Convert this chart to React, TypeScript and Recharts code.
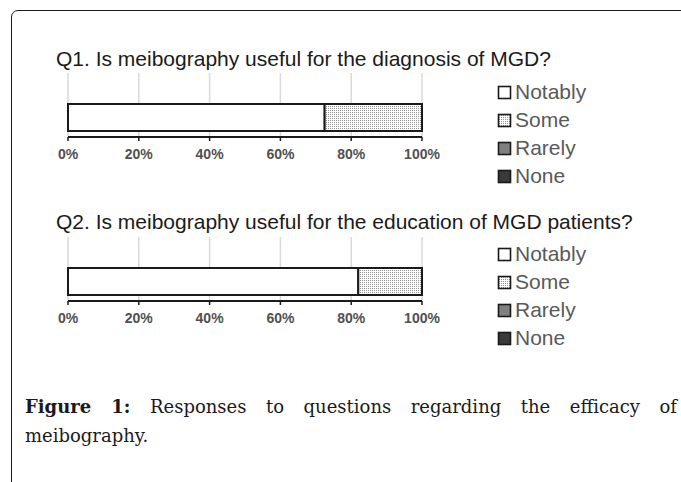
import React from 'react';
import { BarChart, Bar, XAxis, YAxis, CartesianGrid, Legend } from 'recharts';

const QUESTIONS = [
  'Q1. Is meibography useful for the diagnosis of MGD?',
  'Q2. Is meibography useful for the education of MGD patients?',
];
const NOTABLY = [72.5, 82];
const SOME = [27.5, 18];
const RARELY = [0, 0];
const NONE = [0, 0];
const SERIES = ['Notably', 'Some', 'Rarely', 'None'];
const TICKS = [0, 20, 40, 60, 80, 100];
const CAPTION_LABEL = 'Figure 1:';
const CAPTION_LINE1 = 'Responses to questions regarding the efficacy of';
const CAPTION_LINE2 = 'meibography.';

const SANS = '"Liberation Sans", Arial, sans-serif';
const SERIF = '"DejaVu Serif", serif';

const rows = QUESTIONS.map((q, i) => ({
  name: q,
  Notably: NOTABLY[i],
  Some: SOME[i],
  Rarely: RARELY[i],
  None: NONE[i],
}));

const SOLID: Record<string, string> = {
  Notably: '#ffffff',
  Rarely: '#808080',
  None: '#3a3a3a',
};

const fillFor = (name: string, pid: string) =>
  name === 'Some' ? `url(#${pid})` : SOLID[name];

const DotPattern = ({ id }: { id: string }) => (
  <pattern id={id} width={2} height={2} patternUnits="userSpaceOnUse">
    <rect width={2} height={2} fill="#ffffff" />
    <rect x={0} y={0} width={1} height={1} fill="#949494" />
  </pattern>
);

const LegendContent = (props: any) => {
  const { pid } = props;
  return (
    <div>
      {SERIES.map((name) => (
        <div
          key={name}
          style={{ display: 'flex', alignItems: 'center', height: 28 }}
        >
          <svg width={15} height={15} style={{ display: 'block' }}>
            <defs>
              <DotPattern id={`lg-${pid}`} />
            </defs>
            <rect
              x={1.5}
              y={1.5}
              width={12}
              height={12}
              fill={name === 'Some' ? `url(#lg-${pid})` : SOLID[name]}
              stroke="#1a1a1a"
              strokeWidth={1.6}
            />
          </svg>
          <span
            style={{
              marginLeft: 3,
              fontSize: 21,
              color: '#595959',
              fontFamily: SANS,
              lineHeight: '28px',
              whiteSpace: 'nowrap',
            }}
          >
            {name}
          </span>
        </div>
      ))}
    </div>
  );
};

const QuestionChart = ({ index, top }: { index: number; top: number }) => {
  const pid = `dots${index}`;
  return (
    <div style={{ position: 'absolute', left: 0, top }}>
      <BarChart
        width={681}
        height={200}
        layout="vertical"
        data={[rows[index]]}
        margin={{ top: 73, right: 259, left: 68, bottom: 33 }}
      >
        <defs>
          <DotPattern id={pid} />
        </defs>
        <CartesianGrid
          horizontal={false}
          vertical={true}
          stroke="#d9d9d9"
          strokeWidth={1.5}
        />
        <XAxis
          type="number"
          domain={[0, 100]}
          ticks={TICKS}
          tickFormatter={(v: number) => `${v}%`}
          axisLine={{ stroke: '#1a1a1a', strokeWidth: 2 }}
          tickLine={{ stroke: '#1a1a1a', strokeWidth: 1.5 }}
          tickSize={4}
          tickMargin={8}
          tick={{ fontSize: 14, fill: '#505050', fontFamily: SANS, fontWeight: 'bold' }}
          interval={0}
        />
        <YAxis
          type="category"
          dataKey="name"
          hide
          padding={{ top: 25, bottom: 0 }}
        />
        {SERIES.map((name) => (
          <Bar
            key={name}
            dataKey={name}
            name={name}
            stackId="a"
            fill={fillFor(name, pid)}
            stroke="#1a1a1a"
            strokeWidth={2}
            barSize={27}
            isAnimationActive={false}
          />
        ))}
        <Legend
          layout="vertical"
          align="center"
          verticalAlign="middle"
          wrapperStyle={{ position: 'absolute', left: 497, top: index === 0 ? 78 : 76, width: 140 }}
          content={(p: any) => <LegendContent {...p} pid={`${index}`} />}
        />
      </BarChart>
    </div>
  );
};

const titleStyle = (top: number): React.CSSProperties => ({
  position: 'absolute',
  left: 56,
  top,
  fontFamily: SANS,
  fontSize: 21,
  lineHeight: '24px',
  color: '#1a1a1a',
  whiteSpace: 'nowrap',
});

export default function App() {
  return (
    <div
      style={{
        position: 'fixed',
        left: 0,
        top: 0,
        width: 681,
        height: 482,
        overflow: 'hidden',
        background: '#ffffff',
      }}
    >
      <div
        style={{
          position: 'absolute',
          left: 11,
          top: 10,
          width: 720,
          height: 540,
          border: '1.5px solid #1a1a1a',
          borderRadius: 7,
          boxSizing: 'border-box',
        }}
      />
      <div style={titleStyle(47)}>{QUESTIONS[0]}</div>
      <div style={titleStyle(210)}>{QUESTIONS[1]}</div>
      <QuestionChart index={0} top={0} />
      <QuestionChart index={1} top={164} />
      <div
        style={{
          position: 'absolute',
          left: 25,
          top: 392,
          width: 652,
          fontFamily: SERIF,
          fontSize: 18,
          lineHeight: '29px',
          color: '#1a1a1a',
        }}
      >
        <div style={{ textAlign: 'justify', textAlignLast: 'justify' }}>
          <b>{CAPTION_LABEL}</b> {CAPTION_LINE1}
        </div>
        <div>{CAPTION_LINE2}</div>
      </div>
    </div>
  );
}
